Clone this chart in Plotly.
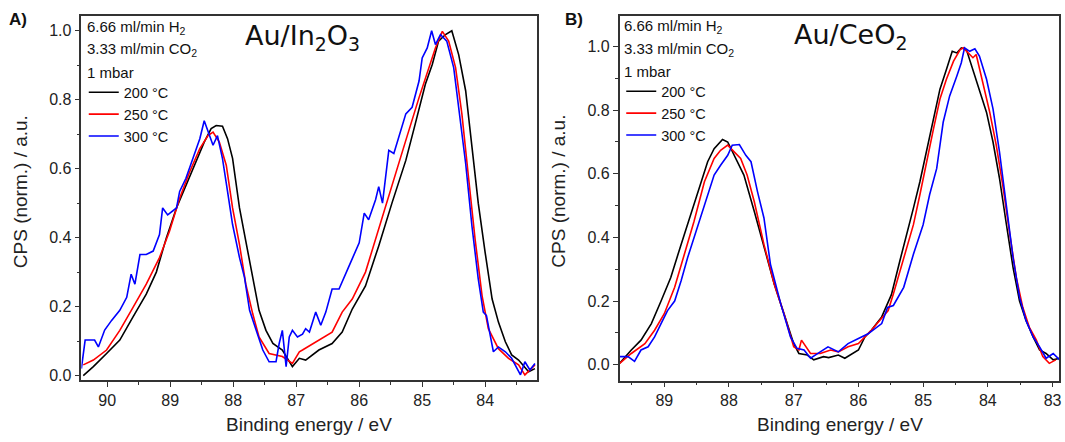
import plotly.graph_objects as go

# ---- Panel A: Au/In2O3 (binding energy in eV, normalised CPS) ----
a_200_e = [90.38, 90.22, 90.01, 89.80, 89.59, 89.38, 89.22, 89.06, 88.90, 88.75, 88.59, 88.46, 88.35, 88.27,
           88.17, 88.09, 88.01, 87.90, 87.80, 87.69, 87.59, 87.48, 87.37, 87.22, 87.06, 86.95, 86.85, 86.64,
           86.43, 86.27, 86.11, 85.90, 85.69, 85.48, 85.26, 85.11, 84.95, 84.84, 84.74, 84.63, 84.53, 84.42,
           84.31, 84.21, 84.11, 84.00, 83.89, 83.79, 83.68, 83.58, 83.47, 83.31, 83.21]
a_200_i = [0.000, 0.026, 0.064, 0.103, 0.170, 0.236, 0.300, 0.400, 0.486, 0.553, 0.620, 0.677, 0.716, 0.725,
           0.723, 0.687, 0.630, 0.486, 0.390, 0.284, 0.189, 0.131, 0.093, 0.074, 0.026, 0.050, 0.045, 0.074,
           0.093, 0.126, 0.193, 0.260, 0.376, 0.500, 0.624, 0.730, 0.845, 0.902, 0.970, 0.989, 1.000, 0.930,
           0.826, 0.663, 0.500, 0.356, 0.222, 0.155, 0.098, 0.060, 0.045, 0.011, 0.020]

a_250_e = [90.38, 90.22, 90.01, 89.80, 89.59, 89.38, 89.17, 89.01, 88.85, 88.69, 88.53, 88.40, 88.32, 88.22,
           88.11, 88.01, 87.90, 87.80, 87.69, 87.59, 87.43, 87.22, 87.06, 86.95, 86.90, 86.69, 86.43, 86.27,
           86.11, 85.90, 85.69, 85.48, 85.26, 85.05, 84.90, 84.79, 84.68, 84.58, 84.47, 84.37, 84.26, 84.16,
           84.05, 83.95, 83.79, 83.63, 83.47, 83.37, 83.21]
a_250_i = [0.031, 0.045, 0.074, 0.131, 0.198, 0.265, 0.342, 0.419, 0.514, 0.591, 0.658, 0.696, 0.706, 0.677,
           0.610, 0.486, 0.380, 0.265, 0.179, 0.112, 0.064, 0.055, 0.035, 0.069, 0.074, 0.098, 0.126, 0.184,
           0.222, 0.300, 0.423, 0.548, 0.682, 0.806, 0.893, 0.950, 0.998, 0.970, 0.893, 0.759, 0.567, 0.395,
           0.232, 0.136, 0.078, 0.050, 0.031, 0.002, 0.031]

a_300_e = [90.41, 90.35, 90.20, 90.14, 90.04, 89.93, 89.80, 89.69, 89.62, 89.56, 89.48, 89.38, 89.27, 89.17,
           89.12, 89.04, 88.90, 88.85, 88.75, 88.64, 88.53, 88.46, 88.38, 88.32, 88.25, 88.17, 88.09, 88.01,
           87.90, 87.82, 87.74, 87.64, 87.53, 87.43, 87.32, 87.27, 87.22, 87.16, 87.11, 87.06, 86.98, 86.90,
           86.85, 86.79, 86.69, 86.61, 86.53, 86.43, 86.32, 86.16, 86.00, 85.92, 85.85, 85.74, 85.69, 85.63,
           85.53, 85.45, 85.37, 85.26, 85.16, 85.05, 85.00, 84.92, 84.85, 84.79, 84.71, 84.61, 84.50, 84.42,
           84.31, 84.21, 84.11, 84.03, 83.98, 83.93, 83.87, 83.79, 83.68, 83.58, 83.44, 83.37, 83.29, 83.21]
a_300_i = [0.020, 0.103, 0.103, 0.083, 0.132, 0.160, 0.189, 0.227, 0.294, 0.265, 0.351, 0.351, 0.361, 0.409,
           0.486, 0.466, 0.486, 0.534, 0.572, 0.629, 0.687, 0.739, 0.696, 0.668, 0.696, 0.629, 0.534, 0.438,
           0.342, 0.284, 0.189, 0.131, 0.074, 0.040, 0.040, 0.093, 0.131, 0.026, 0.112, 0.131, 0.112, 0.120,
           0.136, 0.126, 0.184, 0.146, 0.184, 0.251, 0.251, 0.318, 0.385, 0.471, 0.452, 0.510, 0.548, 0.500,
           0.653, 0.644, 0.692, 0.759, 0.778, 0.854, 0.921, 0.950, 1.000, 0.960, 0.989, 0.970, 0.893, 0.778,
           0.615, 0.433, 0.280, 0.184, 0.174, 0.126, 0.069, 0.083, 0.069, 0.050, 0.002, 0.040, 0.016, 0.035]

# ---- Panel B: Au/CeO2 ----
b_200_e = [89.69, 89.51, 89.36, 89.20, 89.05, 88.90, 88.74, 88.59, 88.43, 88.33, 88.23, 88.10, 88.02, 87.92,
           87.77, 87.61, 87.46, 87.30, 87.15, 87.00, 86.92, 86.79, 86.69, 86.54, 86.46, 86.31, 86.21, 86.10,
           86.00, 85.90, 85.80, 85.64, 85.49, 85.36, 85.25, 85.15, 85.05, 84.95, 84.84, 84.74, 84.64, 84.55,
           84.48, 84.41, 84.33, 84.23, 84.13, 84.02, 83.92, 83.82, 83.72, 83.61, 83.51, 83.41, 83.30, 83.20,
           83.10, 82.99, 82.89]
b_200_i = [0.004, 0.046, 0.077, 0.129, 0.200, 0.274, 0.378, 0.471, 0.575, 0.638, 0.679, 0.708, 0.700, 0.658,
           0.596, 0.482, 0.368, 0.253, 0.160, 0.066, 0.035, 0.030, 0.015, 0.025, 0.022, 0.030, 0.020, 0.035,
           0.046, 0.087, 0.108, 0.150, 0.220, 0.326, 0.409, 0.492, 0.575, 0.669, 0.773, 0.866, 0.928, 0.985,
           0.980, 0.996, 0.990, 0.928, 0.866, 0.793, 0.700, 0.586, 0.450, 0.305, 0.200, 0.139, 0.087, 0.046,
           0.035, 0.015, 0.020]

b_250_e = [89.69, 89.51, 89.30, 89.15, 89.00, 88.84, 88.69, 88.54, 88.38, 88.23, 88.13, 88.02, 87.92, 87.82,
           87.72, 87.61, 87.46, 87.30, 87.15, 87.00, 86.92, 86.88, 86.74, 86.59, 86.43, 86.31, 86.16, 86.00,
           85.80, 85.54, 85.46, 85.36, 85.25, 85.15, 85.05, 84.95, 84.84, 84.74, 84.64, 84.53, 84.43, 84.38,
           84.30, 84.23, 84.18, 84.07, 83.97, 83.87, 83.77, 83.66, 83.56, 83.46, 83.36, 83.25, 83.15, 83.05,
           82.95]
b_250_i = [0.004, 0.035, 0.066, 0.108, 0.160, 0.243, 0.347, 0.451, 0.575, 0.648, 0.674, 0.690, 0.669, 0.648,
           0.596, 0.513, 0.378, 0.253, 0.160, 0.056, 0.046, 0.077, 0.035, 0.035, 0.046, 0.040, 0.056, 0.066,
           0.108, 0.170, 0.222, 0.295, 0.368, 0.440, 0.534, 0.638, 0.741, 0.835, 0.897, 0.954, 0.990, 0.996,
           0.980, 0.965, 0.975, 0.876, 0.793, 0.690, 0.565, 0.409, 0.274, 0.180, 0.118, 0.077, 0.025, 0.004,
           0.015]

b_300_e = [89.69, 89.56, 89.46, 89.36, 89.25, 89.15, 89.05, 88.95, 88.84, 88.74, 88.64, 88.48, 88.33, 88.23,
           88.13, 88.02, 87.95, 87.84, 87.74, 87.66, 87.56, 87.46, 87.36, 87.20, 87.05, 86.95, 86.84, 86.74,
           86.59, 86.47, 86.31, 86.16, 86.00, 85.85, 85.64, 85.55, 85.46, 85.30, 85.15, 85.00, 84.90, 84.79,
           84.69, 84.59, 84.48, 84.41, 84.36, 84.28, 84.20, 84.13, 84.02, 83.92, 83.82, 83.72, 83.61, 83.51,
           83.41, 83.30, 83.20, 83.10, 82.99, 82.89]
b_300_i = [0.025, 0.025, 0.010, 0.046, 0.056, 0.087, 0.129, 0.170, 0.200, 0.264, 0.336, 0.440, 0.534, 0.596,
           0.627, 0.658, 0.690, 0.692, 0.658, 0.638, 0.544, 0.461, 0.316, 0.191, 0.087, 0.051, 0.046, 0.020,
           0.040, 0.056, 0.040, 0.066, 0.082, 0.097, 0.129, 0.180, 0.186, 0.243, 0.347, 0.440, 0.534, 0.617,
           0.762, 0.845, 0.907, 0.949, 0.996, 0.985, 0.993, 0.970, 0.897, 0.804, 0.669, 0.513, 0.336, 0.212,
           0.139, 0.087, 0.056, 0.020, 0.035, 0.015]

temps = ["200 °C", "250 °C", "300 °C"]
colors = ["#000000", "#ff0000", "#0000ff"]
conditions = ["6.66 ml/min H<sub>2</sub>", "3.33 ml/min CO<sub>2</sub>", "1 mbar"]

W, H = 1065, 442
fig = go.Figure()

panel_a = [(a_200_e, a_200_i), (a_250_e, a_250_i), (a_300_e, a_300_i)]
panel_b = [(b_200_e, b_200_i), (b_250_e, b_250_i), (b_300_e, b_300_i)]

for (e, i), name, c in zip(panel_a, temps, colors):
    fig.add_trace(go.Scatter(x=e, y=i, mode="lines", name=name, line=dict(color=c, width=1.6),
                             xaxis="x", yaxis="y", legend="legend"))
for (e, i), name, c in zip(panel_b, temps, colors):
    fig.add_trace(go.Scatter(x=e, y=i, mode="lines", name=name, line=dict(color=c, width=1.6),
                             xaxis="x2", yaxis="y2", legend="legend2"))

SANS = "Liberation Sans, Arial"
tickfont = dict(family=SANS, size=16, color="#222")
axis_common = dict(showline=True, linecolor="#333", linewidth=1.5, mirror=True, ticks="outside",
                   ticklen=5, tickwidth=1.2, tickcolor="#333", showgrid=False, zeroline=False,
                   tickfont=tickfont)
xminor = dict(ticks="outside", ticklen=3, tickwidth=1.2, tickcolor="#333", dtick=0.5, showgrid=False)
yminor = dict(ticks="outside", ticklen=3, tickwidth=1.2, tickcolor="#333", dtick=0.1, showgrid=False)

legend_common = dict(bgcolor="rgba(0,0,0,0)", font=dict(family=SANS, size=14.5, color="#111"),
                     itemwidth=30, tracegroupgap=0, xanchor="left", yanchor="top")


def px(x):
    return x / W


def py(y):
    return 1 - y / H


annotations = []
# panel titles and letters
annotations.append(dict(text="Au/In<sub>2</sub>O<sub>3</sub>", x=px(303), y=py(38),
                        font=dict(family="DejaVu Sans", size=27, color="#111")))
annotations.append(dict(text="Au/CeO<sub>2</sub>", x=px(853), y=py(37),
                        font=dict(family="DejaVu Sans", size=27, color="#111")))
annotations.append(dict(text="<b>A)</b>", x=px(7), y=py(20), xanchor="left",
                        font=dict(family=SANS, size=17, color="#111")))
annotations.append(dict(text="<b>B)</b>", x=px(565), y=py(20), xanchor="left",
                        font=dict(family=SANS, size=17, color="#111")))
# condition lines above legend
for x0, rows in [(85, [28, 50, 73]), (624, [27, 50, 72])]:
    for txt, yy in zip(conditions, rows):
        annotations.append(dict(text=txt, x=px(x0), y=py(yy), xanchor="left",
                                font=dict(family=SANS, size=15, color="#111")))
# axis titles
for cx in [310, 842]:
    annotations.append(dict(text="Binding energy / eV", x=px(cx), y=py(428),
                            font=dict(family=SANS, size=19, color="#222")))
for cx in [20, 560]:
    annotations.append(dict(text="CPS (norm.) / a.u.", x=px(cx), y=py(193), textangle=-90,
                            font=dict(family=SANS, size=19, color="#222")))
for a in annotations:
    a.setdefault("xanchor", "center")
    a.update(xref="paper", yref="paper", yanchor="middle", showarrow=False)

fig.update_layout(
    width=W, height=H,
    paper_bgcolor="white", plot_bgcolor="white",
    margin=dict(l=0, r=0, t=0, b=0),
    xaxis=dict(domain=[px(81.6), px(539)], range=[90.41, 83.17], dtick=1, minor=xminor,
               anchor="y", **axis_common),
    yaxis=dict(domain=[py(383.5), py(15.7)], range=[-0.013, 1.044], dtick=0.2, tickformat=".1f",
               minor=yminor, anchor="x", **axis_common),
    xaxis2=dict(domain=[px(621.4), px(1062)], range=[89.69, 82.9], dtick=1, minor=xminor,
                anchor="y2", **axis_common),
    yaxis2=dict(domain=[py(384), py(15.7)], range=[-0.05, 1.0975], dtick=0.2, tickformat=".1f",
                minor=yminor, anchor="x2", **axis_common),
    legend=dict(x=px(84), y=py(77), **legend_common),
    legend2=dict(x=px(623), y=py(76), **legend_common),
    annotations=annotations,
)

fig.write_html("out.html", config={"displayModeBar": False},
               post_script="document.body.style.margin='0';")
